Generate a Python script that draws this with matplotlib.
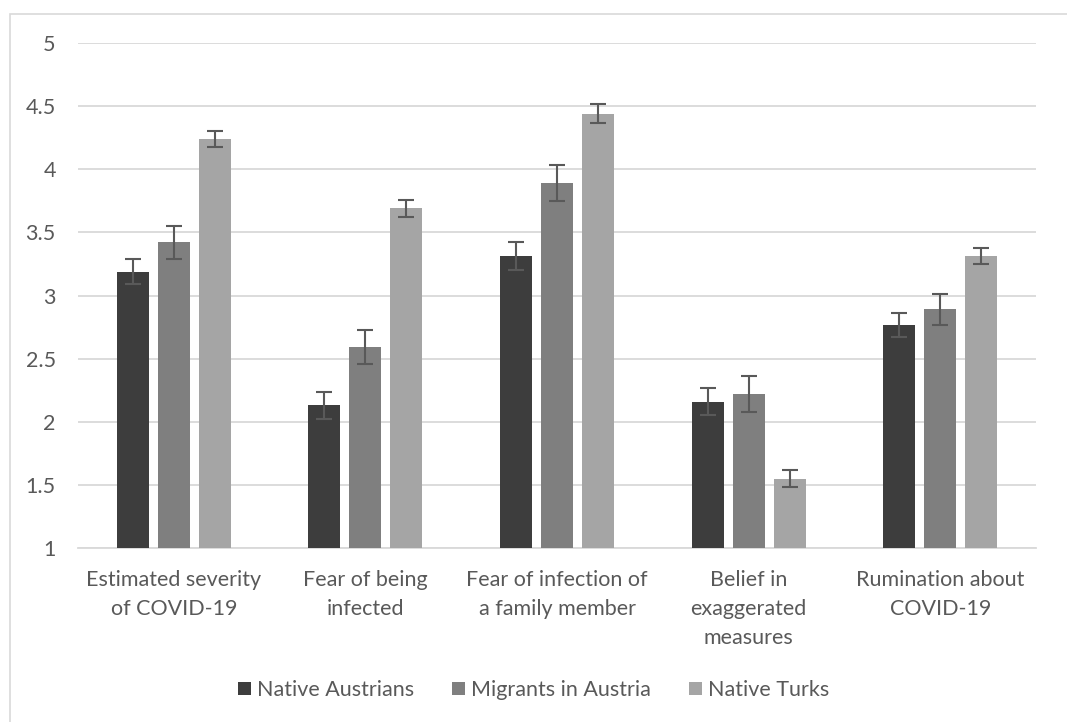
import numpy as np
import matplotlib
matplotlib.use("Agg")
import matplotlib.pyplot as plt
from matplotlib.patches import Rectangle

plt.rcParams['font.family'] = ['Lato', 'DejaVu Sans']

categories = ["Estimated severity\nof COVID-19", "Fear of being\ninfected",
              "Fear of infection of\na family member", "Belief in\nexaggerated\nmeasures",
              "Rumination about\nCOVID-19"]
groups = ["Native Austrians", "Migrants in Austria", "Native Turks"]

native_austrians = [3.19, 2.13, 3.31, 2.16, 2.77]
migrants_austria = [3.42, 2.59, 3.89, 2.22, 2.89]
native_turks = [4.24, 3.69, 4.44, 1.55, 3.31]

err_austrians = [0.10, 0.105, 0.11, 0.105, 0.095]
err_migrants = [0.13, 0.135, 0.145, 0.14, 0.12]
err_turks = [0.065, 0.07, 0.075, 0.07, 0.063]

colors = ["#3d3d3d", "#7f7f7f", "#a5a5a5"]
text_col = "#595959"
grid_col = "#d9d9d9"

fig = plt.figure(figsize=(10.67, 7.22), dpi=100)
ax = fig.add_axes([0.0731, 0.241, 0.8979, 0.6994])

# outer chart frame (cropped at right/bottom in the original)
fig.patches.append(Rectangle((10 / 1067, -0.05), 1.2, 1 - 14 / 722 + 0.05,
                             transform=fig.transFigure, fill=False,
                             edgecolor=grid_col, linewidth=1.2))

x = np.arange(len(categories))
width = 0.167
step = 0.214
series = [native_austrians, migrants_austria, native_turks]
errs = [err_austrians, err_migrants, err_turks]

for i, (vals, e) in enumerate(zip(series, errs)):
    pos = x + (i - 1) * step
    ax.bar(pos, np.array(vals) - 1, bottom=1, width=width, color=colors[i],
           label=groups[i], zorder=3)
    ax.errorbar(pos, vals, yerr=e, fmt="none", ecolor="#595959", elinewidth=1.5,
                capsize=6, capthick=1.5, zorder=4)

ax.set_ylim(1, 5)
ax.set_xlim(-0.5, len(categories) - 0.5)
ax.set_yticks(np.arange(1, 5.01, 0.5))
ax.set_yticklabels(["1", "1.5", "2", "2.5", "3", "3.5", "4", "4.5", "5"])
ax.set_xticks(x)
ax.set_xticklabels(categories, linespacing=1.55)
ax.yaxis.grid(True, color=grid_col, linewidth=1.3, zorder=0)
ax.set_axisbelow(True)
for side in ["top", "right", "left"]:
    ax.spines[side].set_visible(False)
ax.spines["bottom"].set_color(grid_col)
ax.spines["bottom"].set_linewidth(1.3)
ax.tick_params(axis="both", length=0, labelsize=15.5, colors=text_col)
ax.tick_params(axis="y", pad=16)
ax.tick_params(axis="x", pad=16)

fig.legend(loc="center", bbox_to_anchor=(0.5, 0.044), ncol=3, frameon=False,
           fontsize=15.5, labelcolor=text_col, handlelength=0.6, handleheight=0.6,
           handletextpad=0.3, columnspacing=1.75)

fig.savefig("out.png", dpi=100)
